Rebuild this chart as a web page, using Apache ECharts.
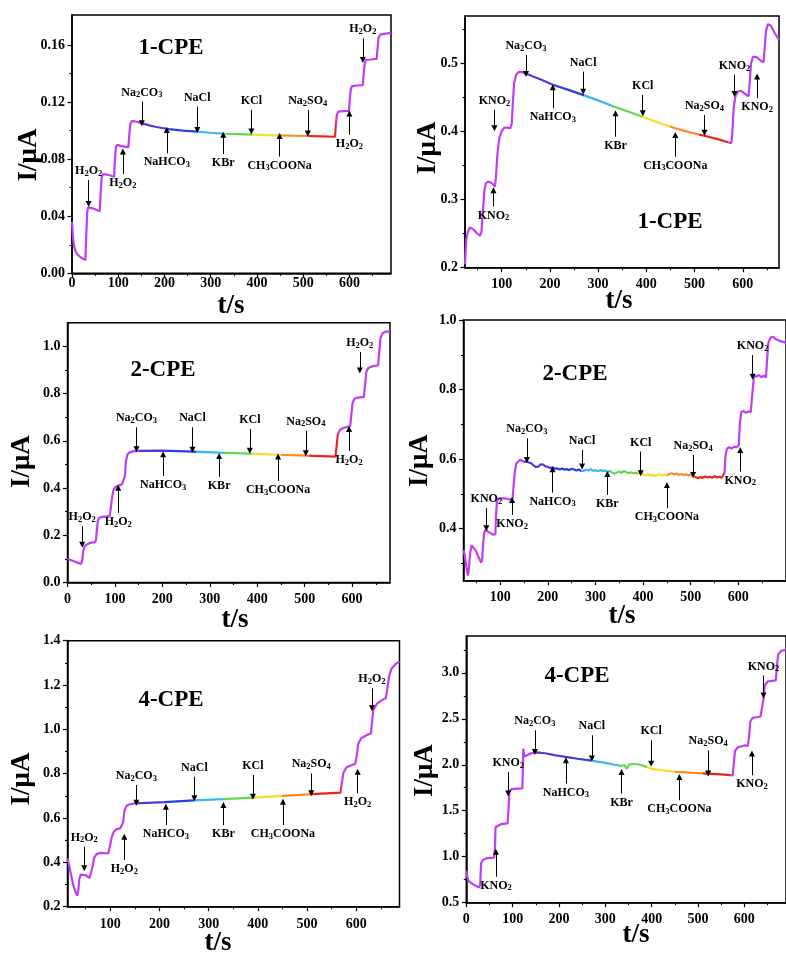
<!DOCTYPE html>
<html>
<head>
<meta charset="utf-8">
<script src="https://cdn.jsdelivr.net/npm/echarts@6/dist/echarts.min.js"></script>
<style>
  html, body { margin: 0; padding: 0; background: #fff; }
  #chart { width: 786px; height: 954px; }
</style>
</head>
<body>
<div id="chart"></div>
<script>
// i-t responses of the modified carbon paste electrodes (time in s, current in µA)
const cpe1H2O2 = [[0,0.036],[2,0.026],[4,0.020],[7,0.016],[12,0.013],[20,0.011],[29,0.0093],[31,0.028],[33,0.043],[35,0.0462],[38,0.0466],[45,0.0455],[52,0.0445],[60,0.0435],[62,0.056],[64,0.067],[67,0.0695],[75,0.0692],[83,0.0685],[91,0.0677],[93,0.080],[95,0.0885],[98,0.0900],[105,0.0893],[113,0.0888],[122,0.0883],[124,0.097],[126,0.1045],[130,0.1068],[140,0.1062],[150,0.1052],[165,0.1038],[180,0.1027],[195,0.1018],[210,0.1010],[240,0.1000],[270,0.0993],[300,0.0985],[330,0.0978],[360,0.0975],[390,0.0972],[420,0.0968],[450,0.0966],[480,0.0964],[510,0.0962],[540,0.0960],[569,0.0957],[571,0.104],[573,0.111],[576,0.1133],[588,0.1136],[599,0.1138],[601,0.122],[603,0.129],[606,0.1312],[617,0.1316],[629,0.1318],[631,0.140],[633,0.147],[636,0.1495],[647,0.1498],[659,0.1502],[661,0.158],[663,0.165],[667,0.1672],[678,0.1680],[690,0.1685]];

const cpe1KNO2 = [[24,0.205],[25,0.222],[27,0.243],[30,0.253],[34,0.259],[37,0.260],[42,0.256],[48,0.251],[55,0.247],[58,0.252],[61,0.282],[64,0.312],[67,0.324],[72,0.3265],[78,0.325],[83,0.322],[86,0.319],[88,0.332],[91,0.365],[95,0.390],[100,0.401],[106,0.406],[112,0.406],[118,0.405],[121,0.412],[123,0.440],[126,0.472],[130,0.484],[136,0.488],[142,0.4875],[152,0.485],[165,0.481],[180,0.477],[206,0.469],[240,0.461],[268,0.454],[300,0.446],[336,0.436],[365,0.429],[392,0.422],[430,0.412],[460,0.405],[490,0.399],[520,0.394],[548,0.389],[576,0.383],[578,0.395],[581,0.435],[585,0.453],[590,0.459],[596,0.460],[604,0.456],[612,0.452],[614,0.470],[617,0.500],[621,0.510],[628,0.510],[636,0.505],[643,0.502],[645,0.520],[648,0.548],[652,0.558],[658,0.556],[666,0.545],[675,0.535]];

const cpe2H2O2 = [[0,0.100],[8,0.094],[16,0.088],[24,0.082],[29,0.079],[31,0.095],[33,0.130],[36,0.155],[40,0.163],[48,0.168],[58,0.171],[60,0.180],[62,0.225],[64,0.262],[67,0.274],[73,0.278],[83,0.280],[89,0.282],[91,0.310],[94,0.360],[97,0.392],[101,0.404],[108,0.411],[115,0.416],[119,0.418],[121,0.450],[123,0.510],[126,0.540],[130,0.550],[138,0.555],[150,0.557],[200,0.558],[265,0.554],[320,0.550],[385,0.546],[445,0.541],[505,0.537],[565,0.533],[567,0.570],[570,0.625],[574,0.645],[580,0.653],[590,0.659],[596,0.662],[598,0.700],[601,0.760],[605,0.778],[612,0.783],[625,0.786],[627,0.830],[630,0.890],[634,0.908],[642,0.915],[655,0.920],[657,0.970],[660,1.035],[664,1.055],[670,1.062],[680,1.063]];

const cpe2KNO2 = [[23,0.338],[26,0.320],[29,0.290],[32,0.265],[34,0.280],[37,0.330],[40,0.352],[43,0.352],[48,0.338],[54,0.320],[60,0.302],[62,0.310],[64,0.350],[66,0.385],[69,0.397],[72,0.398],[75,0.390],[80,0.387],[85,0.382],[88,0.380],[90,0.384],[91,0.430],[93,0.475],[96,0.487],[100,0.489],[105,0.487],[110,0.487],[115,0.485],[120,0.484],[124,0.482],[126,0.486],[128,0.520],[131,0.565],[134,0.588],[138,0.592],[142,0.598],[146,0.596],[150,0.592],[155,0.593],[160,0.590],[165,0.588],[170,0.582],[175,0.577],[180,0.578],[185,0.585],[190,0.584],[195,0.579],[200,0.577],[205,0.574],[210,0.576],[215,0.572],[220,0.573],[225,0.570],[230,0.573],[235,0.569],[240,0.571],[245,0.568],[250,0.572],[255,0.570],[260,0.567],[265,0.570],[270,0.565],[275,0.566],[280,0.569],[285,0.567],[290,0.571],[295,0.566],[300,0.568],[305,0.565],[310,0.568],[315,0.566],[320,0.567],[325,0.563],[330,0.566],[335,0.561],[340,0.558],[345,0.561],[350,0.564],[355,0.560],[360,0.566],[365,0.562],[370,0.559],[375,0.562],[380,0.559],[385,0.561],[390,0.558],[395,0.561],[400,0.557],[405,0.553],[410,0.557],[415,0.552],[420,0.555],[425,0.551],[430,0.554],[435,0.556],[440,0.552],[445,0.556],[450,0.553],[455,0.557],[460,0.559],[465,0.556],[470,0.558],[475,0.555],[480,0.557],[485,0.554],[490,0.556],[495,0.553],[500,0.555],[505,0.550],[510,0.548],[515,0.545],[520,0.548],[525,0.546],[530,0.550],[535,0.547],[540,0.549],[545,0.546],[550,0.551],[555,0.547],[560,0.549],[565,0.546],[569,0.545],[571,0.560],[573,0.610],[576,0.630],[581,0.634],[586,0.630],[591,0.636],[596,0.633],[599,0.628],[601,0.640],[603,0.700],[606,0.735],[611,0.738],[616,0.733],[621,0.737],[626,0.735],[628,0.740],[630,0.800],[633,0.840],[638,0.837],[643,0.842],[648,0.835],[653,0.840],[658,0.835],[660,0.880],[663,0.935],[668,0.950],[673,0.952],[678,0.945],[686,0.940],[700,0.935]];

const cpe4H2O2 = [[13,0.418],[16,0.390],[20,0.345],[25,0.295],[30,0.262],[33,0.250],[35,0.275],[37,0.325],[40,0.345],[44,0.350],[50,0.342],[58,0.330],[61,0.335],[64,0.380],[67,0.420],[72,0.437],[80,0.443],[96,0.440],[99,0.470],[103,0.515],[107,0.538],[113,0.550],[120,0.553],[124,0.548],[126,0.580],[129,0.635],[133,0.655],[140,0.662],[150,0.666],[210,0.672],[270,0.680],[330,0.685],[390,0.692],[450,0.700],[510,0.708],[568,0.715],[571,0.760],[574,0.805],[580,0.828],[590,0.838],[598,0.845],[601,0.880],[604,0.935],[610,0.960],[620,0.972],[630,0.982],[632,1.030],[635,1.090],[642,1.115],[652,1.132],[660,1.140],[663,1.180],[667,1.240],[672,1.275],[680,1.295],[688,1.305]];

const cpe4KNO2 = [[0,0.850],[2,0.780],[5,0.737],[10,0.715],[20,0.685],[28,0.665],[30,0.700],[32,0.930],[36,0.965],[45,0.985],[60,0.990],[62,1.100],[63,1.320],[66,1.340],[75,1.355],[89,1.362],[91,1.500],[93,1.700],[97,1.735],[110,1.740],[121,1.742],[122,1.950],[123,2.175],[125,2.090],[130,2.100],[140,2.125],[150,2.135],[170,2.125],[190,2.105],[214,2.085],[240,2.065],[270,2.045],[300,2.020],[320,2.000],[335,1.988],[342,1.995],[346,1.955],[349,1.960],[352,2.005],[365,2.008],[380,1.995],[399,1.958],[420,1.940],[456,1.922],[490,1.912],[520,1.904],[550,1.895],[575,1.885],[577,2.000],[580,2.150],[586,2.190],[600,2.210],[608,2.205],[610,2.300],[613,2.470],[618,2.510],[635,2.525],[639,2.525],[641,2.700],[644,2.860],[650,2.905],[668,2.918],[670,3.050],[673,3.200],[680,3.240],[690,3.250]];

// Additions marked on each curve: [species, time, arrow tip current, arrow tail current]
const cpe1H2O2Notes = [['H2O2',36,0.0486,0.0654],['H2O2',110,0.0853,0.0696],['Na2CO3',151,0.1051,0.1203],['NaHCO3',205,0.1004,0.0841],['NaCl',271,0.1004,0.1168],['KBr',327,0.0970,0.0836],['KCl',388,0.0993,0.1145],['CH3COONa',449,0.0962,0.0818],['Na2SO4',510,0.0980,0.1145],['H2O2',600,0.1120,0.0970],['H2O2',629,0.1495,0.1647]];
const cpe1KNO2Notes = [['KNO2',85,0.405,0.432],['KNO2',83,0.314,0.290],['Na2CO3',150.5,0.4848,0.5127],['NaHCO3',206,0.4652,0.4343],['NaCl',269,0.4588,0.4882],['KBr',336,0.4270,0.3926],['KCl',392.5,0.4270,0.4539],['CH3COONa',460,0.3950,0.3632],['Na2SO4',520.5,0.3985,0.4245],['KNO2',582.7,0.4554,0.4833],['KNO2',629.7,0.4809,0.449]];
const cpe2H2O2Notes = [['H2O2',31,0.160,0.238],['H2O2',107,0.401,0.295],['Na2CO3',145.5,0.5645,0.657],['NaHCO3',201.7,0.543,0.451],['NaCl',263.5,0.5617,0.657],['KBr',319.7,0.536,0.448],['KCl',384.4,0.5574,0.6496],['CH3COONa',444,0.533,0.4298],['Na2SO4',502.5,0.5475,0.6426],['H2O2',593.8,0.6496,0.5574],['H2O2',616.3,0.8979,0.9759]];
const cpe2KNO2Notes = [['KNO2',71,0.401,0.4585],['KNO2',125,0.4824,0.4393],['Na2CO3',156,0.5974,0.6597],['NaHCO3',210,0.5706,0.5035],['NaCl',272,0.5783,0.6262],['KBr',325,0.5572,0.4968],['KCl',395,0.5591,0.6214],['CH3COONa',450,0.5255,0.4585],['Na2SO4',505,0.5543,0.6118],['KNO2',604,0.6262,0.5639],['KNO2',630,0.837,0.8993]];
const cpe4H2O2Notes = [['H2O2',47,0.373,0.4707],['H2O2',128.5,0.5158,0.4105],['Na2CO3',153,0.669,0.749],['NaHCO3',213,0.651,0.5684],['NaCl',271,0.6887,0.7865],['KBr',330,0.6586,0.5684],['KCl',390,0.6962,0.794],['CH3COONa',451,0.6737,0.5684],['Na2SO4',508.5,0.7113,0.8015],['H2O2',603,0.809,0.7113],['H2O2',632,1.095,1.185]];
const cpe4KNO2Notes = [['KNO2',90.5,1.687,1.922],['KNO2',64,1.0535,0.782],['Na2CO3',148,2.139,2.374],['NaHCO3',215,2.048,1.795],['NaCl',271,2.067,2.32],['KBr',335,1.922,1.687],['KCl',399,2.012,2.266],['CH3COONa',460,1.868,1.614],['Na2SO4',522,1.904,2.157],['KNO2',616.5,2.121,1.886],['KNO2',641.5,2.754,2.971]];

// Tick values
const xMajorFrom0 = [0,100,200,300,400,500,600];
const xMajorFrom100 = [100,200,300,400,500,600];
const xMinor = [50,150,250,350,450,550,650];
const yMajor1 = [0,0.04,0.08,0.12,0.16], yMinor1 = [0.02,0.06,0.10,0.14];
const yMajor2 = [0.2,0.3,0.4,0.5], yMinor2 = [0.25,0.35,0.45,0.55];
const yMajor3 = [0,0.2,0.4,0.6,0.8,1.0], yMinor3 = [0.1,0.3,0.5,0.7,0.9];
const yMajor4 = [0.4,0.6,0.8,1.0], yMinor4 = [0.3,0.5,0.7,0.9];
const yMajor5 = [0.2,0.4,0.6,0.8,1.0,1.2,1.4], yMinor5 = [0.3,0.5,0.7,0.9,1.1,1.3];
const yMajor6 = [0.5,1.0,1.5,2.0,2.5,3.0], yMinor6 = [0.75,1.25,1.75,2.25,2.75,3.25];

// Colour bands between successive additions of interfering species
const segmentEdges = [150,210,270,330,390,450,510,570];
const segmentColors = ['#5b34d6','#2b3ee2','#38b8f2','#66d84c','#f3df26','#ff8a24','#e8241e'];
const MAGENTA = '#c23cf3';

const SERIF = '"Liberation Serif","Times New Roman",serif';

const panels = [
  { curve: cpe1H2O2, notes: cpe1H2O2Notes, title: '1-CPE', box: [72, 15, 319, 258.3], x: [0, 690], y: [0, 0.181],
    xTicks: xMajorFrom0, yTicks: yMajor1, yMinor: yMinor1, dec: 2, xMargin: 3,
    titleAt: [171, 48], yNameAt: [29, 155], xNameAt: [231, 306] },
  { curve: cpe1KNO2, notes: cpe1KNO2Notes, title: '1-CPE', box: [465, 16, 314, 251.7], x: [24, 675], y: [0.2, 0.57],
    xTicks: xMajorFrom100, yTicks: yMajor2, yMinor: yMinor2, dec: 1, xMargin: 10,
    titleAt: [670, 222], yNameAt: [428, 148], xNameAt: [619, 301] },
  { curve: cpe2H2O2, notes: cpe2H2O2Notes, title: '2-CPE', box: [67.5, 322.7, 322.5, 259.8], x: [0, 680], y: [0, 1.1],
    xTicks: xMajorFrom0, yTicks: yMajor3, yMinor: yMinor3, dec: 1, xMargin: 10,
    titleAt: [163, 370], yNameAt: [22.5, 461.7], xNameAt: [235, 620] },
  { curve: cpe2KNO2, notes: cpe2KNO2Notes, title: '2-CPE', box: [463.5, 320, 327.7, 260.7], x: [23, 700], y: [0.25, 1.0],
    xTicks: xMajorFrom100, yTicks: yMajor4, yMinor: yMinor4, dec: 1, xMargin: 10,
    titleAt: [575, 374], yNameAt: [420.5, 460.7], xNameAt: [622, 616] },
  { curve: cpe4H2O2, notes: cpe4H2O2Notes, title: '4-CPE', box: [67.5, 640.7, 332, 266], x: [13, 688], y: [0.2, 1.4],
    xTicks: xMajorFrom100, yTicks: yMajor5, yMinor: yMinor5, dec: 1, xMargin: 11,
    titleAt: [171, 700], yNameAt: [22.5, 779], xNameAt: [218, 943] },
  { curve: cpe4KNO2, notes: cpe4KNO2Notes, title: '4-CPE', box: [466.3, 636, 323, 266.7], x: [0, 690], y: [0.5, 3.4],
    xTicks: xMajorFrom0, yTicks: yMajor6, yMinor: yMinor6, dec: 1, xMargin: 10,
    titleAt: [577, 676], yNameAt: [425.5, 770.7], xNameAt: [636, 935] }
];

function colourPieces() {
  const p = [{ lt: segmentEdges[0], color: MAGENTA }];
  for (let k = 0; k < segmentColors.length; k++) {
    p.push({ gte: segmentEdges[k], lt: segmentEdges[k + 1], color: segmentColors[k] });
  }
  p.push({ gte: segmentEdges[segmentEdges.length - 1], color: MAGENTA });
  return p;
}

// Chemical formula digits rendered as subscripts
function chem(s) { return s.replace(/(\d)/g, '{s|$1}'); }

const labelFont = { fontFamily: SERIF, fontWeight: 'bold', fontSize: 14, color: '#000' };
const axisLineStyle = { color: '#000', width: 1.5 };

const grid = [], xAxis = [], yAxis = [], series = [], visualMap = [], graphic = [];

panels.forEach((p, i) => {
  grid.push({ left: p.box[0], top: p.box[1], width: p.box[2], height: p.box[3],
    show: true, borderColor: '#000', borderWidth: 1.5, backgroundColor: 'transparent' });

  // main axes: line, long ticks, labels
  xAxis.push({ type: 'value', gridIndex: i, position: 'bottom', min: p.x[0], max: p.x[1],
    axisLine: { show: true, onZero: false, lineStyle: axisLineStyle },
    axisTick: { show: true, length: 4.5, lineStyle: { color: '#000', width: 1.2 }, customValues: p.xTicks },
    axisLabel: Object.assign({ margin: p.xMargin, customValues: p.xTicks, formatter: v => String(v) }, labelFont),
    splitLine: { show: false } });
  yAxis.push({ type: 'value', gridIndex: i, position: 'left', min: p.y[0], max: p.y[1],
    axisLine: { show: true, onZero: false, lineStyle: axisLineStyle },
    axisTick: { show: true, length: 4.5, lineStyle: { color: '#000', width: 1.2 }, customValues: p.yTicks },
    axisLabel: Object.assign({ margin: 7, customValues: p.yTicks, formatter: v => v.toFixed(p.dec) }, labelFont),
    splitLine: { show: false } });
  // companion axes carrying only the short minor ticks
  xAxis.push({ type: 'value', gridIndex: i, position: 'bottom', min: p.x[0], max: p.x[1],
    axisLine: { show: false, onZero: false },
    axisTick: { show: true, length: 2.5, lineStyle: { color: '#000', width: 1.1 }, customValues: xMinor },
    axisLabel: { show: false, customValues: xMinor }, splitLine: { show: false } });
  yAxis.push({ type: 'value', gridIndex: i, position: 'left', min: p.y[0], max: p.y[1],
    axisLine: { show: false, onZero: false },
    axisTick: { show: true, length: 2.5, lineStyle: { color: '#000', width: 1.1 }, customValues: p.yMinor },
    axisLabel: { show: false, customValues: p.yMinor }, splitLine: { show: false } });

  series.push({
    type: 'line', xAxisIndex: 2 * i, yAxisIndex: 2 * i, data: p.curve,
    showSymbol: false, symbol: 'none', smooth: false,
    lineStyle: { width: 2.2 }, emphasis: { disabled: true },
    markLine: {
      silent: true, animation: false,
      symbol: ['none', 'triangle'], symbolSize: 6,
      lineStyle: { color: '#000', width: 1, type: 'solid' },
      itemStyle: { color: '#000' },
      emphasis: { disabled: true },
      label: {
        show: true, position: 'start', distance: 2, color: '#000',
        fontFamily: SERIF, fontWeight: 'bold', fontSize: 12, lineHeight: 14,
        formatter: prm => chem(prm.name),
        rich: { s: { fontFamily: SERIF, fontWeight: 'bold', fontSize: 8.5, lineHeight: 8, verticalAlign: 'bottom', color: '#000' } }
      },
      data: p.notes.map(n => [{ name: n[0], coord: [n[1], n[3]] }, { coord: [n[1], n[2]] }])
    }
  });

  visualMap.push({ type: 'piecewise', show: false, seriesIndex: i, dimension: 0, pieces: colourPieces() });

  graphic.push({ type: 'text', x: p.titleAt[0], y: p.titleAt[1], silent: true,
    style: { text: p.title, font: 'bold 23px ' + SERIF, fill: '#000', align: 'center', verticalAlign: 'middle' } });
  graphic.push({ type: 'text', x: p.yNameAt[0], y: p.yNameAt[1], rotation: Math.PI / 2, silent: true,
    style: { text: 'I/μA', font: 'bold 27px ' + SERIF, fill: '#000', align: 'center', verticalAlign: 'middle' } });
  graphic.push({ type: 'text', x: p.xNameAt[0], y: p.xNameAt[1], silent: true,
    style: { text: 't/s', font: 'bold 27px ' + SERIF, fill: '#000', align: 'center', verticalAlign: 'middle' } });
});

const chart = echarts.init(document.getElementById('chart'), null, { renderer: 'canvas' });
chart.setOption({
  animation: false,
  backgroundColor: '#fff',
  grid, xAxis, yAxis, series, visualMap, graphic
});
</script>
</body>
</html>
